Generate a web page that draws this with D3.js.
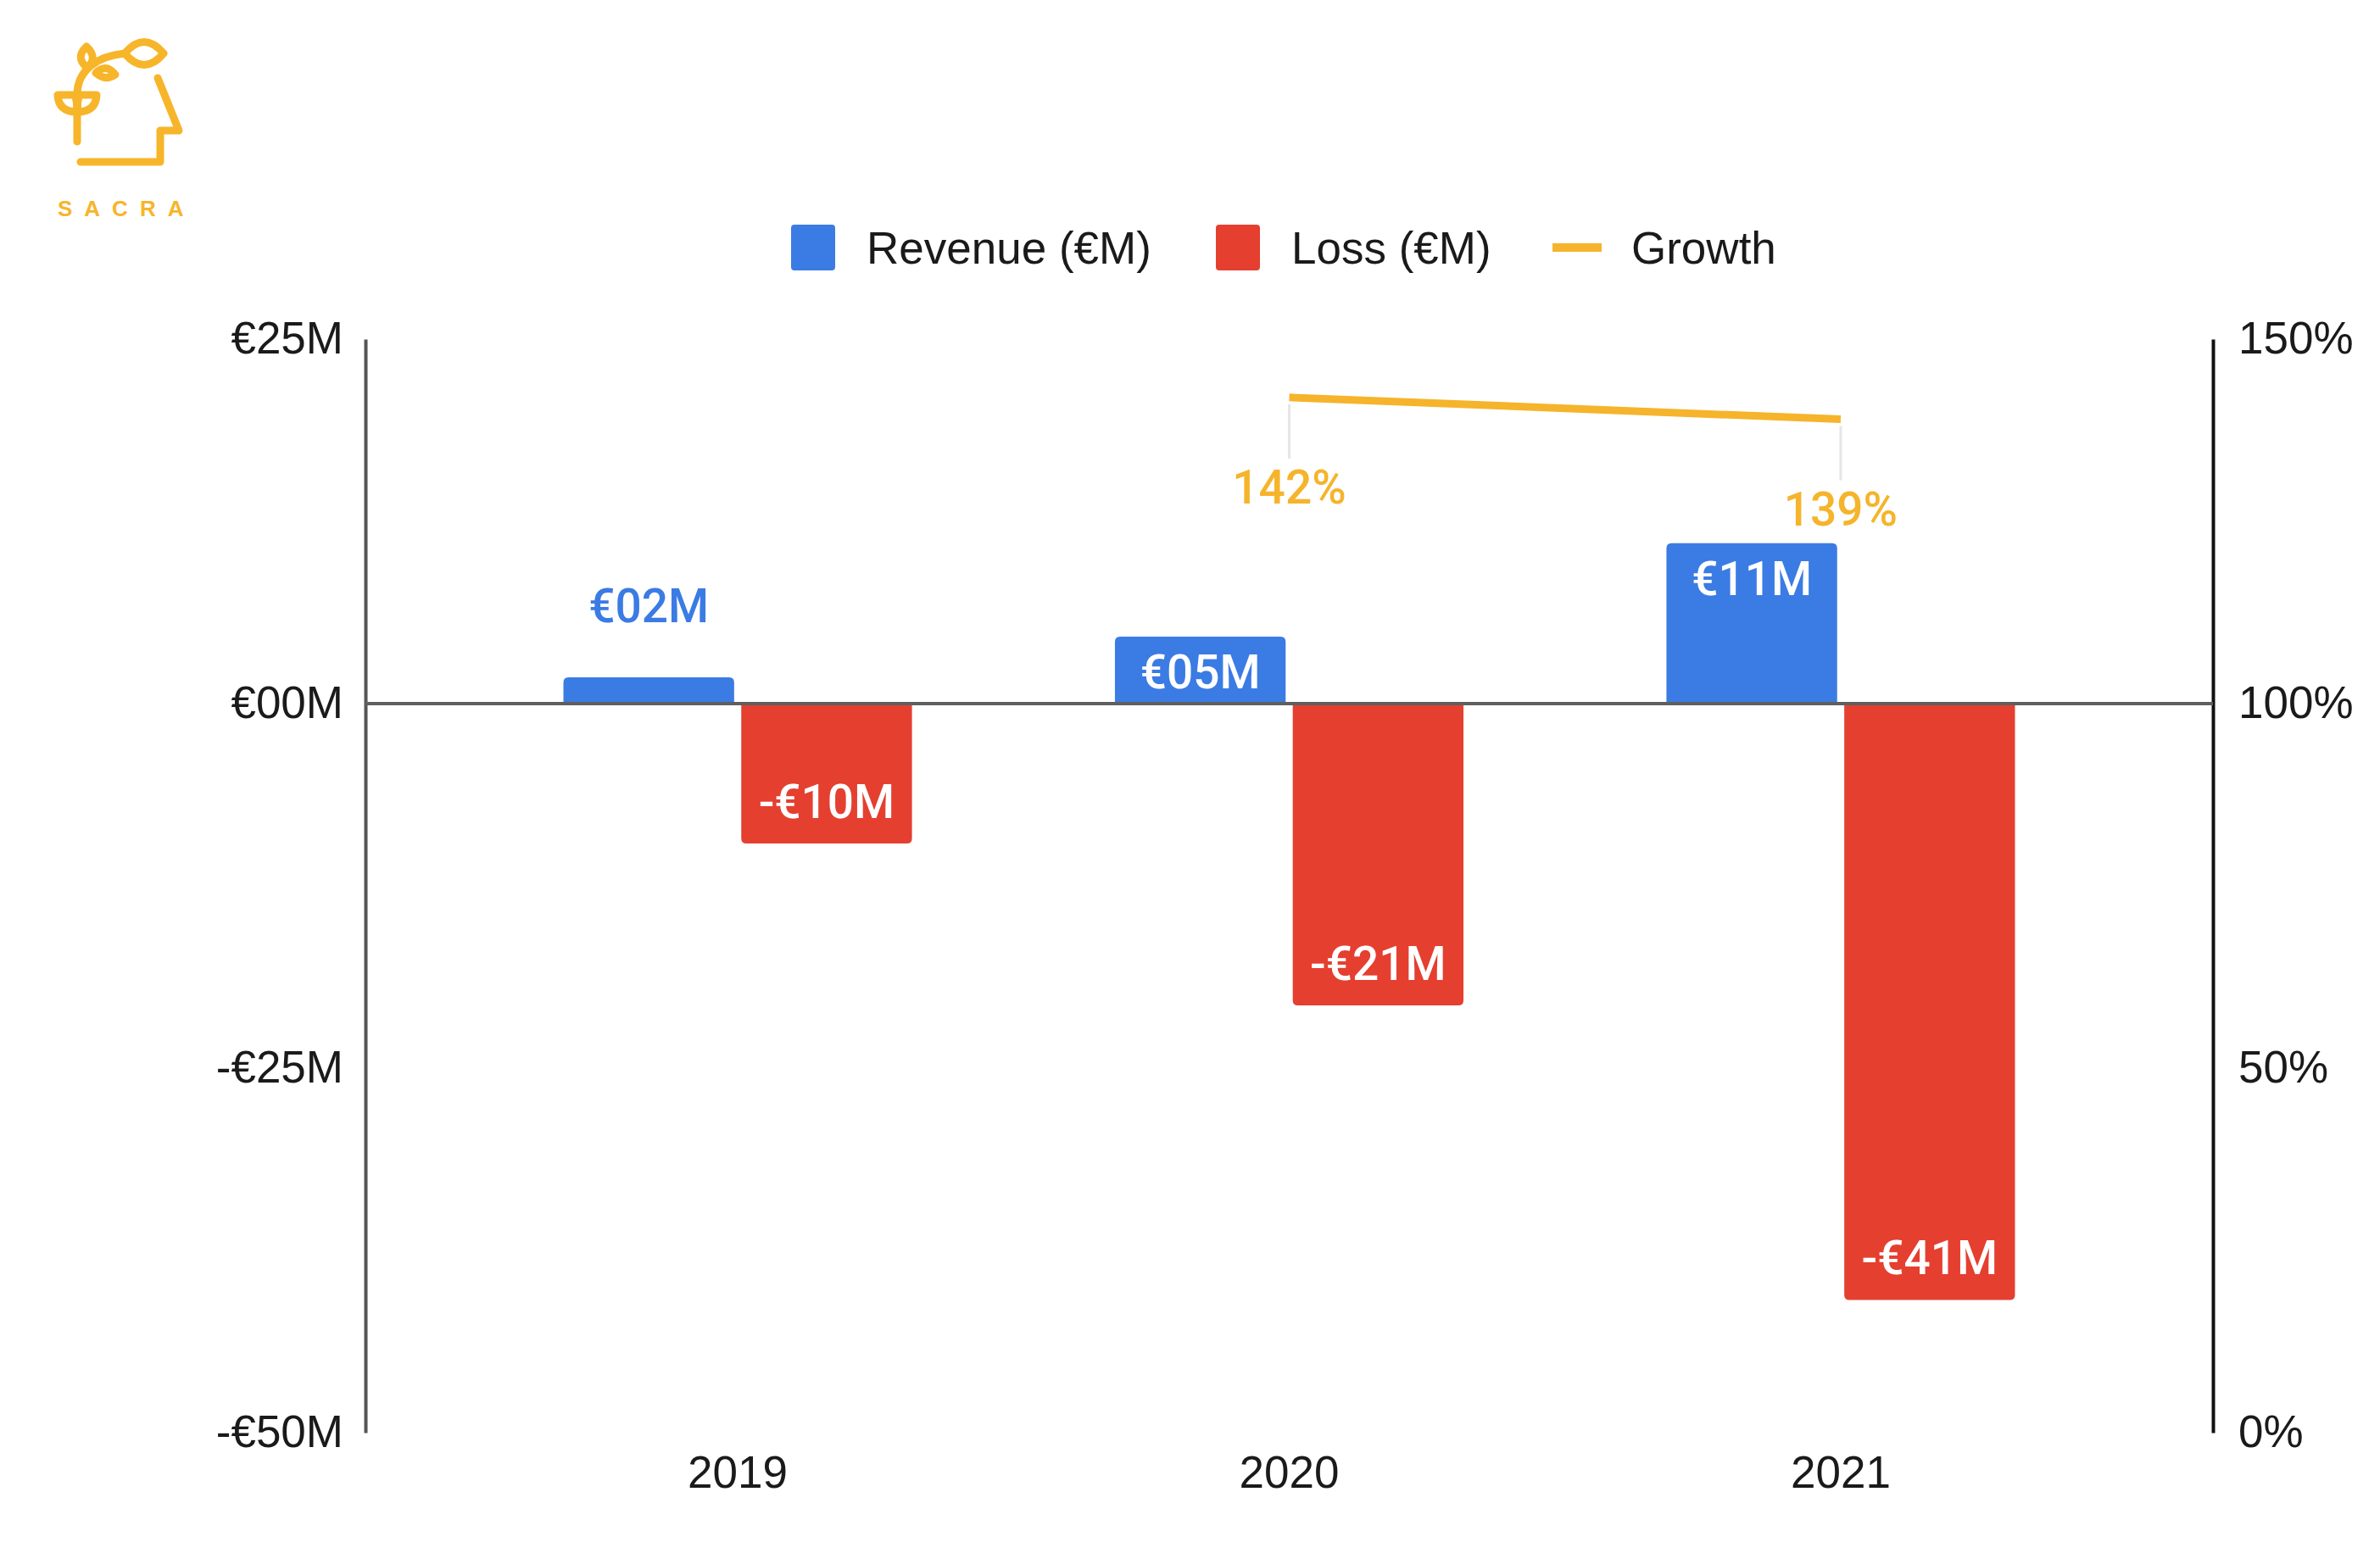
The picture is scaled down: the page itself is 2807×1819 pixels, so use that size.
<!DOCTYPE html>
<html>
<head>
<meta charset="utf-8">
<script src="https://cdn.jsdelivr.net/npm/d3@7"></script>
<style>
  html, body { margin: 0; padding: 0; background: #ffffff; }
  svg { display: block; }
</style>
</head>
<body>
<svg id="chart" width="2807" height="1819"></svg>
<script>
// ---------- DATA ----------
const years = ["2019", "2020", "2021"];
const revenue = [1.8, 4.6, 11.0];          // €M
const loss = [-9.6, -20.7, -40.9];         // €M
const growth = [null, 142, 139];           // %
const revenueLabels = ["€02M", "€05M", "€11M"];
const lossLabels = ["-€10M", "-€21M", "-€41M"];
const growthLabels = [null, "142%", "139%"];
const leftTickValues = [25, 0, -25, -50];
const leftTickLabels = ["€25M", "€00M", "-€25M", "-€50M"];
const rightTickValues = [150, 100, 50, 0];
const rightTickLabels = ["150%", "100%", "50%", "0%"];
const seriesNames = ["Revenue (€M)", "Loss (€M)", "Growth"];

// ---------- STYLE ----------
const BLUE = "#3b7be4", RED = "#e53f30", YELLOW = "#f5b42b", LOGO = "#f7b52a";
const AXIS_FONT = "'Liberation Sans', Arial, Helvetica, sans-serif";
const LABEL_FONT = "Roboto, 'Liberation Sans', Arial, sans-serif";

const svg = d3.select("#chart");
const plot = { left: 431, right: 2610, top: 400, bottom: 1690 };

const x = d3.scaleBand().domain(years).range([plot.left, plot.right])
  .paddingInner(0.368).paddingOuter(0.359);
const x1 = d3.scaleBand().domain(["rev", "loss"]).range([0, x.bandwidth()]).paddingInner(0.04);
const y = d3.scaleLinear().domain([-50, 25]).range([plot.bottom, plot.top]);
const y2 = d3.scaleLinear().domain([0, 150]).range([plot.bottom, plot.top]);

// ---------- LOGO ----------
const logo = svg.append("g").attr("fill", "none").attr("stroke", LOGO)
  .attr("stroke-width", 9).attr("stroke-linecap", "round").attr("stroke-linejoin", "round");
logo.append("path").attr("d", "M186,92 L211,154 L189,154 L189,191 L95,191");
logo.append("path").attr("d", "M91,167 L91,112 C91,82 116,66 147,63");
logo.append("path").attr("d", "M147,63 Q170,36 193,63 Q170,90 147,63");
logo.append("path").attr("d", "M103,80 Q88,68 102,55 Q116,68 103,80");
logo.append("path").attr("d", "M113,86 Q125,74 136,88 Q124,96 113,86");
logo.append("path").attr("d", "M91,132 Q69,132 68,112 L88,112 Q91,118 91,132");
logo.append("path").attr("d", "M91,132 Q113,132 114,112 L94,112 Q91,118 91,132");
svg.append("text").attr("x", 68).attr("y", 255).attr("text-anchor", "start")
  .attr("fill", LOGO).attr("font-family", AXIS_FONT).attr("font-weight", 700)
  .attr("font-size", 26).attr("letter-spacing", 14).text("SACRA");

// ---------- LEGEND ----------
const legend = svg.append("g").attr("font-family", AXIS_FONT).attr("font-size", 53).attr("fill", "#1a1a1a");
legend.append("rect").attr("x", 933).attr("y", 265).attr("width", 52).attr("height", 54).attr("rx", 4).attr("fill", BLUE);
legend.append("text").attr("x", 1022).attr("y", 311).text(seriesNames[0]);
legend.append("rect").attr("x", 1434).attr("y", 265).attr("width", 52).attr("height", 54).attr("rx", 4).attr("fill", RED);
legend.append("text").attr("x", 1523).attr("y", 311).text(seriesNames[1]);
legend.append("rect").attr("x", 1831).attr("y", 287).attr("width", 58).attr("height", 10).attr("fill", YELLOW);
legend.append("text").attr("x", 1924).attr("y", 311).text(seriesNames[2]);

// ---------- AXES ----------
const leftAxis = d3.axisLeft(y).tickValues(leftTickValues)
  .tickFormat((d, i) => leftTickLabels[i]).tickSize(0).tickPadding(26);
const gl = svg.append("g").attr("transform", `translate(${plot.left},0)`).call(leftAxis);
gl.select(".domain").attr("stroke", "#555").attr("stroke-width", 4);
gl.selectAll("text").attr("font-family", AXIS_FONT).attr("font-size", 53).attr("fill", "#1a1a1a");

const rightAxis = d3.axisRight(y2).tickValues(rightTickValues)
  .tickFormat((d, i) => rightTickLabels[i]).tickSize(0).tickPadding(30);
const gr = svg.append("g").attr("transform", `translate(${plot.right},0)`).call(rightAxis);
gr.select(".domain").attr("stroke", "#111").attr("stroke-width", 4);
gr.selectAll("text").attr("font-family", AXIS_FONT).attr("font-size", 53).attr("fill", "#1a1a1a");

const bottomAxis = d3.axisBottom(x).tickSize(0).tickPadding(27);
const gb = svg.append("g").attr("transform", `translate(0,${plot.bottom})`).call(bottomAxis);
gb.select(".domain").remove();
gb.selectAll("text").attr("font-family", AXIS_FONT).attr("font-size", 53).attr("fill", "#1a1a1a");

// ---------- BARS ----------
function barPath(x0, w, yBase, yEnd, r) {
  const up = yEnd < yBase;
  const h = Math.abs(yEnd - yBase);
  r = Math.min(r, h / 2, w / 2);
  if (up) {
    return `M${x0},${yBase} L${x0},${yEnd + r} Q${x0},${yEnd} ${x0 + r},${yEnd} L${x0 + w - r},${yEnd} Q${x0 + w},${yEnd} ${x0 + w},${yEnd + r} L${x0 + w},${yBase} Z`;
  }
  return `M${x0},${yBase} L${x0},${yEnd - r} Q${x0},${yEnd} ${x0 + r},${yEnd} L${x0 + w - r},${yEnd} Q${x0 + w},${yEnd} ${x0 + w},${yEnd - r} L${x0 + w},${yBase} Z`;
}

const bars = svg.append("g");
years.forEach((yr, i) => {
  const bx = x(yr) + x1("rev");
  bars.append("path").attr("d", barPath(bx, x1.bandwidth(), y(0), y(revenue[i]), 6)).attr("fill", BLUE);
  const lx = x(yr) + x1("loss");
  bars.append("path").attr("d", barPath(lx, x1.bandwidth(), y(0), y(loss[i]), 6)).attr("fill", RED);
});

// zero line
svg.append("line").attr("x1", plot.left).attr("x2", plot.right)
  .attr("y1", y(0)).attr("y2", y(0)).attr("stroke", "#5f5f5f").attr("stroke-width", 4);

// ---------- BAR LABELS ----------
const labels = svg.append("g").attr("font-family", LABEL_FONT).attr("font-size", 55)
  .attr("font-weight", 500).attr("text-anchor", "middle").attr("dominant-baseline", "central");
years.forEach((yr, i) => {
  const cx = x(yr) + x1("rev") + x1.bandwidth() / 2;
  const top = y(revenue[i]);
  const h = y(0) - top;
  if (h < 70) {
    labels.append("text").attr("x", cx).attr("y", top - 84).attr("fill", BLUE).text(revenueLabels[i]);
  } else {
    labels.append("text").attr("x", cx).attr("y", top + 42).attr("fill", "#fff").text(revenueLabels[i]);
  }
  const lcx = x(yr) + x1("loss") + x1.bandwidth() / 2;
  labels.append("text").attr("x", lcx).attr("y", y(loss[i]) - 49).attr("fill", "#fff").text(lossLabels[i]);
});

// ---------- GROWTH LINE ----------
const gpts = years.map((yr, i) => ({ x: x(yr) + x.bandwidth() / 2, v: growth[i], lab: growthLabels[i] }))
  .filter(d => d.v !== null);
const gline = svg.append("g");
gpts.forEach(d => {
  gline.append("line").attr("x1", d.x).attr("x2", d.x)
    .attr("y1", y2(d.v) + 8).attr("y2", y2(d.v) + 72)
    .attr("stroke", "#e6e6e6").attr("stroke-width", 3);
});
gline.append("path")
  .attr("d", d3.line().x(d => d.x).y(d => y2(d.v))(gpts))
  .attr("fill", "none").attr("stroke", YELLOW).attr("stroke-width", 9);
gpts.forEach(d => {
  labels.append("text").attr("x", d.x).attr("y", y2(d.v) + 106).attr("fill", YELLOW).text(d.lab);
});
</script>
</body>
</html>
